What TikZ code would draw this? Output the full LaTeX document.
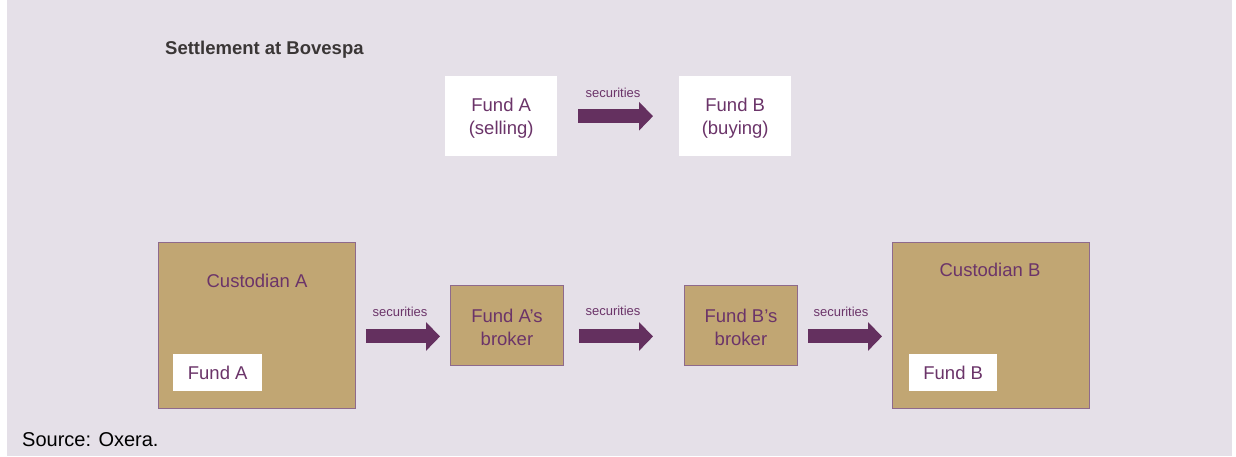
\documentclass[tikz,border=0pt]{standalone}
\usepackage{fontspec}
\setmainfont{Liberation Sans}
\usetikzlibrary{arrows.meta,calc}
\definecolor{bgc}{HTML}{E5E0E8}
\definecolor{tanc}{HTML}{C1A673}
\definecolor{plum}{HTML}{6B3469}
\definecolor{arrc}{HTML}{64305F}
\definecolor{edgec}{HTML}{8E6A8C}
\definecolor{headc}{HTML}{3A3636}
\begin{document}
\begin{tikzpicture}[x=1pt,y=-1pt,
  tanbox/.style={draw=edgec, line width=0.9pt, fill=tanc, inner sep=0pt, anchor=north west},
  whitebox/.style={fill=white, inner sep=0pt, anchor=north west},
  txt/.style={text=plum, font=\fontsize{18.5}{23}\selectfont, align=center, inner sep=0pt},
  lbl/.style={text=plum, font=\fontsize{13}{15}\selectfont, inner sep=0pt},
  bigarrow/.style={draw=arrc, line width=14pt, -{Triangle[length=14pt,width=28pt]}}
]
\useasboundingbox (0,0) rectangle (1236,457);
\fill[bgc] (7,0) rectangle (1232,456);

\node[text=headc, font=\bfseries\fontsize{18.5}{22}\selectfont, anchor=west, inner sep=0pt] (title) at (165,50) {Settlement at Bovespa};

% top row
\node[whitebox, minimum width=112pt, minimum height=80pt] (fa) at (445,76) {};
\node[txt] (fatxt) at ([shift={(0,2)}]fa.center) {Fund A\\(selling)};
\node[whitebox, minimum width=112pt, minimum height=80pt] (fb) at (679,76) {};
\node[txt] (fbtxt) at ([shift={(0,2)}]fb.center) {Fund B\\(buying)};
\draw[bigarrow] ([shift={(21,0)}]fa.east) -- ([shift={(-26,0)}]fb.west);
\node[lbl] (s0) at (613,93) {securities};

% bottom row
\node[tanbox, minimum width=197pt, minimum height=166pt] (custA) at (158,242) {};
\node[txt] (custAtxt) at (257,281) {Custodian A};
\node[whitebox, minimum width=89pt, minimum height=37pt] (fundA) at (173,354) {};
\node[txt] (fundAtxt) at (fundA.center) {Fund A};

\node[tanbox, minimum width=113pt, minimum height=80pt] (brA) at (450,285) {};
\node[txt] (brAtxt) at ([shift={(0,2)}]brA.center) {Fund A’s\\broker};

\node[tanbox, minimum width=113pt, minimum height=80pt] (brB) at (684,285) {};
\node[txt] (brBtxt) at ([shift={(0,2)}]brB.center) {Fund B’s\\broker};

\node[tanbox, minimum width=197pt, minimum height=166pt] (custB) at (892,242) {};
\node[txt] (custBtxt) at (990,270) {Custodian B};
\node[whitebox, minimum width=88pt, minimum height=37pt] (fundB) at (909,354) {};
\node[txt] (fundBtxt) at (fundB.center) {Fund B};

\draw[bigarrow] ([shift={(10,11)}]custA.east) -- ([shift={(-10,11)}]brA.west);
\draw[bigarrow] ([shift={(15,11)}]brA.east) -- ([shift={(-31,11)}]brB.west);
\draw[bigarrow] ([shift={(10,11)}]brB.east) -- ([shift={(-10,11)}]custB.west);
\node[lbl] (s1) at (400,312) {securities};
\node[lbl] (s2) at (613,311) {securities};
\node[lbl] (s3) at (841,312) {securities};

\node[text=black, font=\fontsize{20}{24}\selectfont, anchor=west, inner sep=0pt] (src) at (22,440) {Source: Oxera.};
\end{tikzpicture}
\end{document}
